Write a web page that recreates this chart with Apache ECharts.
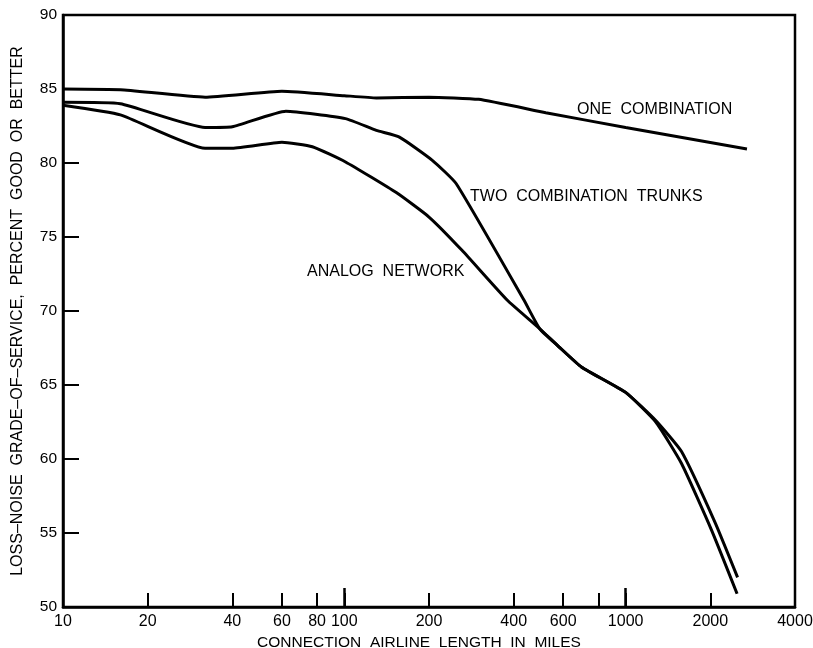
<!DOCTYPE html>
<html>
<head>
<meta charset="utf-8">
<script src="https://cdn.jsdelivr.net/npm/echarts@6/dist/echarts.min.js"></script>
<style>
html, body { margin: 0; padding: 0; background: #fff; }
#chart { width: 813px; height: 648px; }
</style>
</head>
<body>
<div id="chart"></div>
<script>
// connection length in miles (x) and grade-of-service in percent (y)
var oneCombMiles = [10, 16, 32, 60, 100, 130, 200, 300, 520, 1000, 2700];
var oneComb = [85.0, 84.95, 84.45, 84.85, 84.55, 84.4, 84.45, 84.3, 83.4, 82.4, 80.95];

var twoCombMiles = [10, 16, 32, 40, 62, 101, 130, 157, 205, 250, 435, 495, 578, 698, 1000, 1280, 1580, 2080, 2500];
var twoComb = [84.1, 84.0, 82.4, 82.45, 83.5, 83.0, 82.2, 81.75, 80.2, 78.6, 70.74, 68.8, 67.6, 66.2, 64.5, 62.6, 60.5, 55.7, 52.0];

var analogMiles = [10, 16, 32, 40, 60, 77, 101, 153, 200, 262, 379, 495, 578, 698, 1000, 1280, 1580, 2020, 2490];
var analog = [83.9, 83.25, 81.0, 81.0, 81.4, 81.1, 80.07, 78.0, 76.35, 74.1, 70.74, 68.8, 67.6, 66.2, 64.5, 62.5, 59.7, 55.2, 50.9];

var xTicks = [20, 40, 60, 80, 100, 200, 400, 600, 800, 1000, 2000];
var xLongTicks = [100, 1000];
var xLabels = [10, 20, 40, 60, 80, 100, 200, 400, 600, 1000, 2000, 4000];

function pairs(xs, ys) {
	var out = [];
	for (var i = 0; i < xs.length; i++) out.push([xs[i], ys[i]]);
	return out;
}

var font = '"Liberation Sans", Arial, Helvetica, sans-serif';

var myChart = echarts.init(document.getElementById('chart'));

function lineSeries(name, xs, ys) {
	return {
		name: name,
		type: 'line',
		data: pairs(xs, ys),
		showSymbol: false,
		symbol: 'none',
		smooth: 0.15,
		lineStyle: { color: '#000', width: 3 },
		animation: false
	};
}

var option = {
	backgroundColor: '#fff',
	grid: {
		left: 63, right: 18, top: 15, bottom: 41,
		outerBoundsMode: 'none',
		containLabel: false,
		show: true,
		borderColor: '#000',
		borderWidth: 2.5
	},
	xAxis: [{
		type: 'log',
		logBase: 10,
		min: 10,
		max: 4000,
		name: 'CONNECTION  AIRLINE  LENGTH  IN  MILES',
		nameLocation: 'middle',
		nameGap: 28,
		nameTextStyle: { color: '#000', fontSize: 15.5, fontFamily: font, padding: [0, 20, 0, 0] },
		axisLine: { lineStyle: { color: '#000', width: 2.5 } },
		axisTick: { inside: true, length: 14, customValues: xTicks, lineStyle: { color: '#000', width: 2 } },
		axisLabel: {
			customValues: xLabels, color: '#000', fontSize: 16, fontFamily: font, margin: 7,
			formatter: function(v) { return String(v); }
		},
		splitLine: { show: false },
		minorTick: { show: false }
	}, {
		type: 'log',
		logBase: 10,
		min: 10,
		max: 4000,
		position: 'bottom',
		axisLine: { show: false },
		axisTick: { inside: true, length: 19, customValues: xLongTicks, lineStyle: { color: '#000', width: 2.5 } },
		axisLabel: { show: false },
		splitLine: { show: false }
	}],
	yAxis: {
		type: 'value',
		min: 50,
		max: 90,
		interval: 5,
		name: 'LOSS–NOISE  GRADE–OF–SERVICE,  PERCENT  GOOD  OR  BETTER',
		nameLocation: 'middle',
		nameGap: 37,
		nameTextStyle: { color: '#000', fontSize: 16, fontFamily: font },
		axisLine: { lineStyle: { color: '#000', width: 2.5 } },
		axisTick: { inside: true, length: 16, lineStyle: { color: '#000', width: 2 } },
		axisLabel: { color: '#000', fontSize: 15.5, fontFamily: font, margin: 6 },
		splitLine: { show: false }
	},
	graphic: [
		{ type: 'text', left: 577, top: 102, style: { text: 'ONE  COMBINATION', fill: '#000', font: '16px ' + font } },
		{ type: 'text', left: 470, top: 189, style: { text: 'TWO  COMBINATION  TRUNKS', fill: '#000', font: '16px ' + font } },
		{ type: 'text', left: 307, top: 264, style: { text: 'ANALOG  NETWORK', fill: '#000', font: '16px ' + font } }
	],
	series: [
		lineSeries('One combination', oneCombMiles, oneComb),
		lineSeries('Two combination trunks', twoCombMiles, twoComb),
		lineSeries('Analog network', analogMiles, analog)
	]
};

myChart.setOption(option);
</script>
</body>
</html>
